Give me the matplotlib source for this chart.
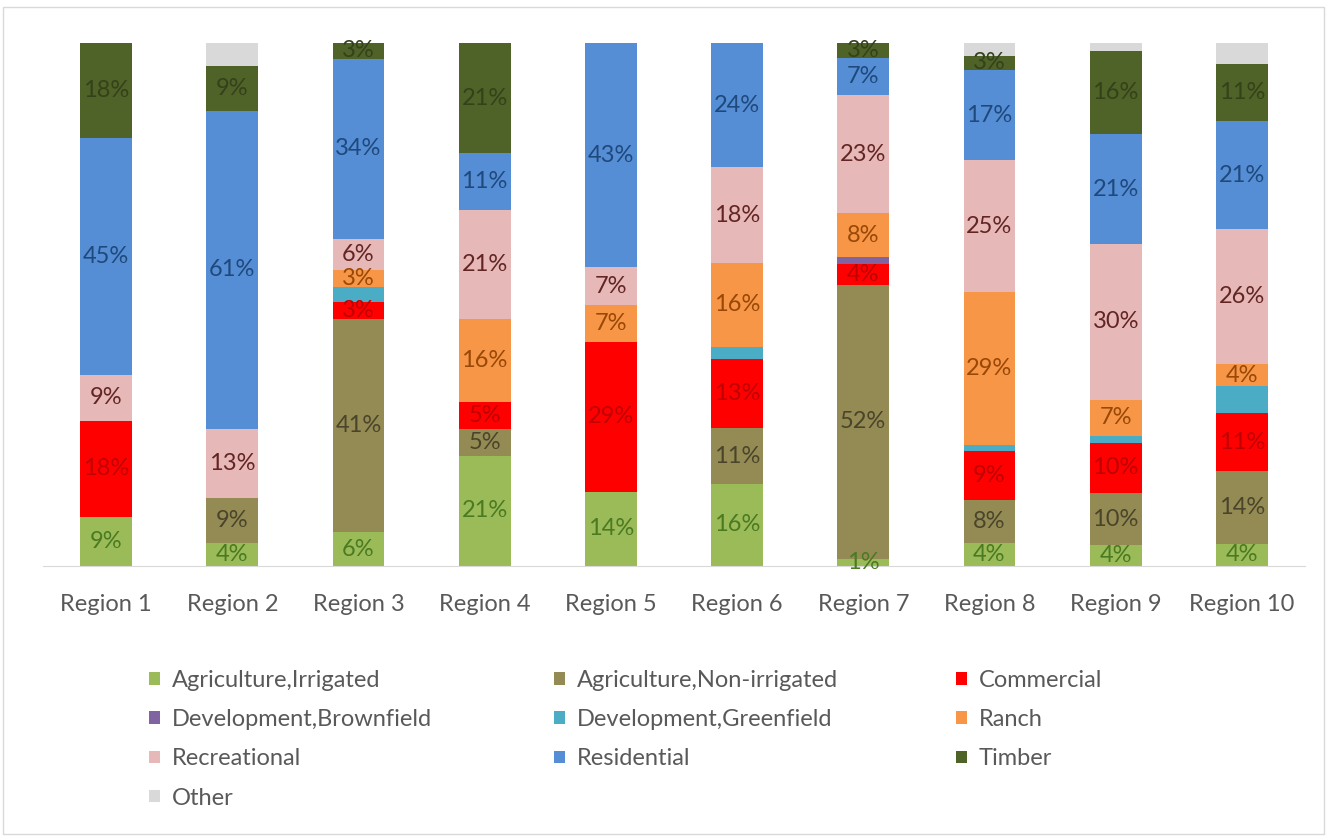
import matplotlib.pyplot as plt
from matplotlib.patches import Patch, Rectangle

# Land use share (%) per region
regions = ["Region 1", "Region 2", "Region 3", "Region 4", "Region 5",
           "Region 6", "Region 7", "Region 8", "Region 9", "Region 10"]

ag_irrigated = [9.4, 4.4, 6.4, 21.1, 14.2, 15.7, 1.4, 4.3, 4.0, 4.2]
ag_non_irrigated = [0, 8.6, 40.9, 5.1, 0, 10.6, 52.3, 8.3, 9.9, 14.0]
commercial = [18.4, 0, 3.2, 5.1, 28.6, 13.3, 4.1, 9.3, 9.7, 11.0]
dev_brownfield = [0, 0, 0, 0, 0, 0, 1.3, 0, 0, 0]
dev_greenfield = [0, 0, 2.8, 0, 0, 2.3, 0, 1.2, 1.3, 5.2]
ranch = [0, 0, 3.2, 15.9, 7.1, 16.1, 8.3, 29.2, 6.9, 4.2]
recreational = [8.7, 13.2, 6.1, 20.9, 7.2, 18.2, 22.6, 25.3, 29.8, 25.8]
residential = [45.4, 60.8, 34.4, 10.8, 42.9, 23.8, 7.1, 17.2, 20.9, 20.6]
timber = [18.1, 8.6, 3.0, 21.1, 0, 0, 2.9, 2.8, 16.0, 11.0]
other = [0, 4.4, 0, 0, 0, 0, 0, 2.4, 1.5, 4.0]

# name, values, bar colour, label colour (None = no labels)
series = [
    ("Agriculture,Irrigated", ag_irrigated, "#9BBB59", "#4A7A22"),
    ("Agriculture,Non-irrigated", ag_non_irrigated, "#948A54", "#4A452A"),
    ("Commercial", commercial, "#FF0000", "#C00000"),
    ("Development,Brownfield", dev_brownfield, "#8064A2", None),
    ("Development,Greenfield", dev_greenfield, "#4BACC6", None),
    ("Ranch", ranch, "#F79646", "#984807"),
    ("Recreational", recreational, "#E6B9B8", "#632523"),
    ("Residential", residential, "#558ED5", "#1F497D"),
    ("Timber", timber, "#4F6228", "#34421A"),
    ("Other", other, "#D9D9D9", None),
]

plt.rcParams['font.family'] = ['Lato', 'DejaVu Sans']

fig = plt.figure(figsize=(13.27, 8.36), dpi=100)
ax = fig.add_axes([0.0324, 0.3230, 0.9510, 0.6256])

x = list(range(len(regions)))
bottom = [0.0] * len(regions)
handles = {}
for name, vals, col, lab_col in series:
    ax.bar(x, vals, 0.41, bottom=bottom, color=col, linewidth=0)
    handles[name] = Patch(facecolor=col, label=name)
    if lab_col is not None:
        for i, v in enumerate(vals):
            if v > 0:
                ax.text(x[i], bottom[i] + v / 2, "%d%%" % round(v),
                        ha='center', va='center', fontsize=17, color=lab_col)
    bottom = [b + v for b, v in zip(bottom, vals)]

ax.set_xlim(-0.5, len(regions) - 0.5)
ax.set_ylim(0, 100)
ax.set_xticks(x)
ax.set_xticklabels(regions, fontsize=17, color="#595959")
ax.tick_params(axis='x', length=0, pad=20)
ax.set_yticks([])
for s in ['top', 'left', 'right']:
    ax.spines[s].set_visible(False)
ax.spines['bottom'].set_color("#D9D9D9")

# legend in three columns, row-major order like the original
cols = [
    ["Agriculture,Irrigated", "Development,Brownfield", "Recreational", "Other"],
    ["Agriculture,Non-irrigated", "Development,Greenfield", "Residential"],
    ["Commercial", "Ranch", "Timber"],
]
col_x = [0.0965, 0.4017, 0.7046]
for cx, names in zip(col_x, cols):
    fig.legend(handles=[handles[n] for n in names], loc='upper left',
               bbox_to_anchor=(cx, 0.224), frameon=False,
               fontsize=17, labelcolor="#595959", handlelength=0.45,
               handleheight=0.45, handletextpad=0.5, labelspacing=0.77)

fig.patches.append(Rectangle((0.002, 0.002), 0.996, 0.99, transform=fig.transFigure,
                             fill=False, edgecolor="#D9D9D9", linewidth=1))

fig.savefig("out.png", dpi=100)
